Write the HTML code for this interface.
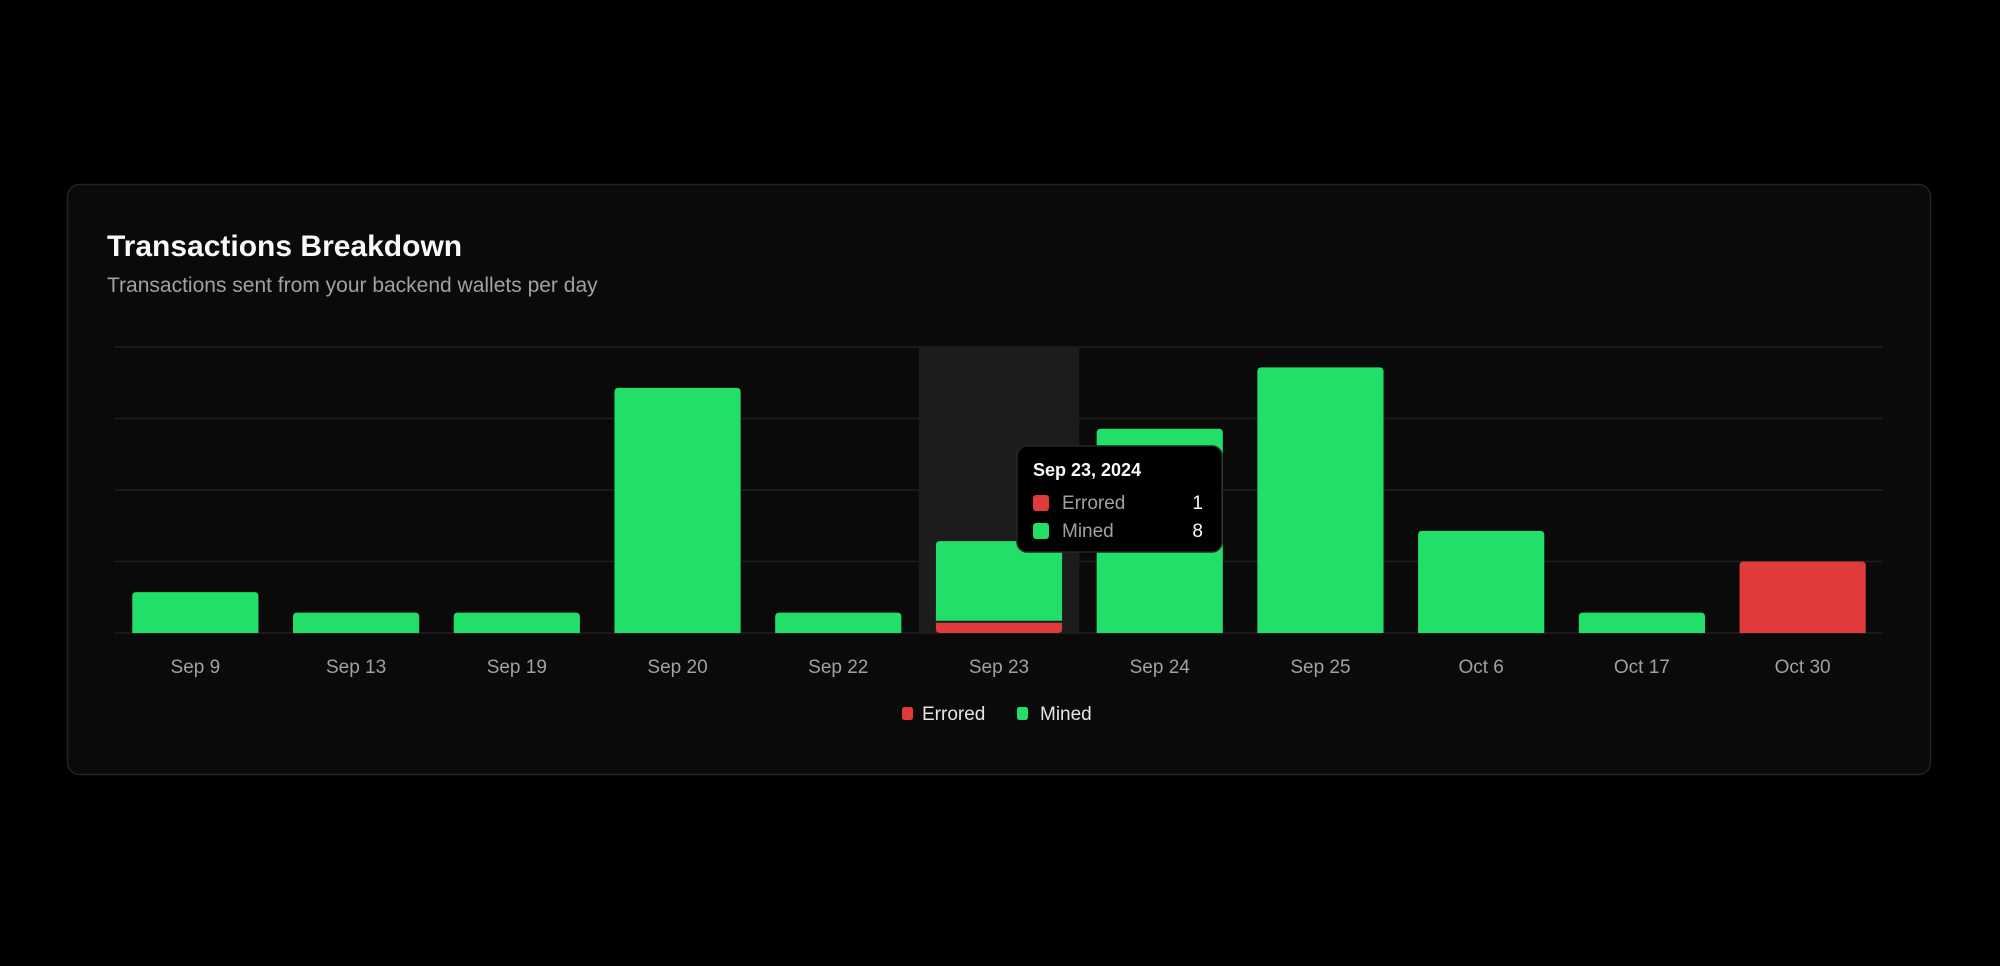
<!DOCTYPE html>
<html><head><meta charset="utf-8"><style>
html,body{margin:0;padding:0;background:#000;width:2000px;height:966px;overflow:hidden;font-family:"Liberation Sans",sans-serif;}
</style></head><body>
<svg id="chart" width="2000" height="966" viewBox="0 0 2000 966" xmlns="http://www.w3.org/2000/svg">
<rect x="67.5" y="184.5" width="1863" height="590" rx="12" fill="#0a0a0a" stroke="#232323" stroke-width="1.5"/>
<text x="107" y="256" fill="#fafafa" font-size="30" font-weight="bold">Transactions Breakdown</text>
<text x="107" y="292" fill="#a1a1a1" font-size="21">Transactions sent from your backend wallets per day</text>
<g id="grid"></g>
<g id="highlight"></g>
<g id="bars"></g>
<g id="xlabels"></g>
<g>
<rect x="902" y="707" width="11" height="13" rx="2.5" fill="#e03a3a"/>
<text x="922" y="720" fill="#e5e5e5" font-size="19">Errored</text>
<rect x="1017" y="707" width="11" height="13" rx="2.5" fill="#22df6a"/>
<text x="1040" y="720" fill="#e5e5e5" font-size="19">Mined</text>
</g>
<g>
<rect x="1017" y="446" width="205" height="106" rx="10" fill="#000" stroke="#262626" stroke-width="1.5"/>
<text x="1033" y="476" fill="#fafafa" font-size="18" font-weight="bold">Sep 23, 2024</text>
<rect x="1033" y="495" width="16" height="16" rx="3" fill="#e03a3a"/>
<text x="1062" y="509" fill="#a1a1a1" font-size="19">Errored</text>
<text x="1203" y="509" fill="#fafafa" font-size="19" text-anchor="end">1</text>
<rect x="1033" y="523" width="16" height="16" rx="3" fill="#22df6a"/>
<text x="1062" y="537" fill="#a1a1a1" font-size="19">Mined</text>
<text x="1203" y="537" fill="#fafafa" font-size="19" text-anchor="end">8</text>
</g>
</svg>
<script>
const categories = ["Sep 9","Sep 13","Sep 19","Sep 20","Sep 22","Sep 23","Sep 24","Sep 25","Oct 6","Oct 17","Oct 30"];
const errored = [0,0,0,0,0,1,0,0,0,0,7];
const mined = [4,2,2,24,2,8,20,26,10,2,0];
const yTicks = [0,7,14,21,28];
const highlightIndex = 5;

const NS = "http://www.w3.org/2000/svg";
const plotL = 115, plotR = 1883, plotT = 347, plotB = 633;
const yMax = yTicks[yTicks.length-1];
const band = (plotR - plotL) / categories.length;
const barW = band * 0.785;
function xScale(i){ return plotL + band * i; }
function yScale(v){ return plotB - (v / yMax) * (plotB - plotT); }
function mk(tag, attrs, parent){ const e=document.createElementNS(NS,tag); for(const k in attrs) e.setAttribute(k,attrs[k]); parent.appendChild(e); return e; }
function topRounded(x,y,w,h,r){ r=Math.min(r,h); return `M${x},${y+h}V${y+r}Q${x},${y} ${x+r},${y}H${x+w-r}Q${x+w},${y} ${x+w},${y+r}V${y+h}Z`; }

const grid = document.getElementById('grid');
yTicks.forEach(t=>{
  const l = mk('line',{x1:plotL,x2:plotR,y1:yScale(t),y2:yScale(t),stroke:'#1f1f1f','stroke-width':1.5},grid);
  
  
});
const hl = mk('rect',{x:xScale(highlightIndex),y:plotT,width:band,height:plotB-plotT,fill:'#1c1c1c'},document.getElementById('highlight'));



const bars = document.getElementById('bars');
const xl = document.getElementById('xlabels');
categories.forEach((c,i)=>{
  const x = xScale(i) + (band - barW)/2;
  const e = errored[i], m = mined[i];
  if(e>0){
    const y0 = yScale(e);
    const p = mk('path',{d: m>0 ? `M${x},${y0}H${x+barW}V${plotB-4}Q${x+barW},${plotB} ${x+barW-4},${plotB}H${x+4}Q${x},${plotB} ${x},${plotB-4}Z` : topRounded(x,y0,barW,plotB-y0,4), fill:'#e03a3a'},bars);
    
    
  }
  if(m>0){
    const yb = yScale(e), yt = yScale(e+m);
    const p = mk('path',{d: topRounded(x,yt,barW,(yb-(e>0?2:0))-yt,4), fill:'#22df6a'},bars);
    
    
  }
  const t = mk('text',{x:xScale(i)+band/2,y:673,fill:'#a1a1a1','font-size':19,'text-anchor':'middle'},xl);
  t.textContent = c;
  
  
});
</script>
</body></html>
